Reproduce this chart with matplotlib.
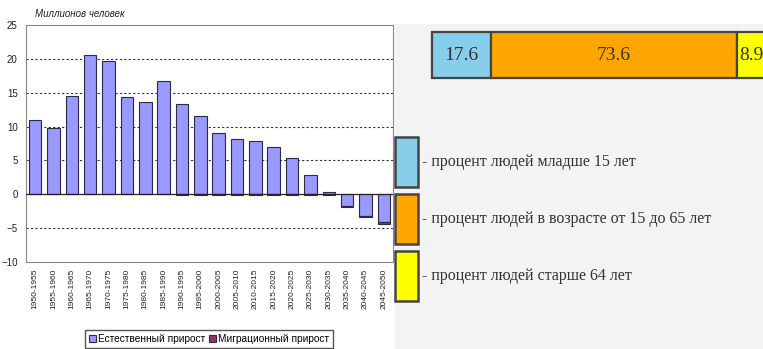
import matplotlib
matplotlib.use("Agg")
import matplotlib.pyplot as plt
from matplotlib.patches import Rectangle, Patch
import numpy as np

# data
periods = ["1950-1955", "1955-1960", "1960-1965", "1965-1970", "1970-1975",
           "1975-1980", "1980-1985", "1985-1990", "1990-1995", "1995-2000",
           "2000-2005", "2005-2010", "2010-2015", "2015-2020", "2020-2025",
           "2025-2030", "2030-2035", "2035-2040", "2040-2045", "2045-2050"]
natural = [11.0, 9.8, 14.5, 20.5, 19.7, 14.4, 13.7, 16.7, 13.3, 11.6,
           9.0, 8.1, 7.85, 7.0, 5.3, 2.9, 0.4, -1.7, -3.2, -4.1]
migration = [0, 0, 0, 0, 0, 0, 0, 0, -0.15, -0.15,
             -0.15, -0.15, -0.15, -0.15, -0.15, -0.15, -0.1, -0.25, -0.15, -0.25]
series_names = ["Естественный прирост", "Миграционный прирост"]
y_label = "Миллионов человек"

age_shares = [17.6, 73.6, 8.9]
age_labels = ["- процент людей младше 15 лет",
              "- процент людей в возрасте от 15 до 65 лет",
              "- процент людей старше 64 лет"]
age_colors = ["#87ceeb", "#ffa500", "#ffff00"]

W, H = 763, 349
fig = plt.figure(figsize=(W / 100, H / 100), dpi=100)
fig.patch.set_facecolor("white")


def fx(px):
    return px / W


def fy(py):
    return 1 - py / H


# light gray panel on the right (behind everything)
fig.patches.append(Rectangle((fx(395), 0), 1 - fx(395), fy(24), transform=fig.transFigure,
                             facecolor="#f3f3f3", edgecolor="none", zorder=-5))

# ---- left chart ----
ax = fig.add_axes([fx(26), fy(262), fx(393) - fx(26), fy(25) - fy(262)])
x = np.arange(len(periods))
nat = np.array(natural)
mig = np.array(migration)
ax.bar(x, nat, width=0.68, color="#9999ff", edgecolor="#2b2b48", linewidth=0.8, zorder=3,
       label=series_names[0])
ax.bar(x, mig, width=0.68, bottom=np.minimum(nat, 0), color="#993366", edgecolor="#2b2b48",
       linewidth=0.8, zorder=3, label=series_names[1])
ax.set_xlim(-0.5, len(periods) - 0.5)
ax.set_ylim(-10, 25)
ax.set_yticks(range(-10, 30, 5))
ax.set_xticks(x)
ax.set_xticklabels(periods, rotation=90, fontsize=6, family="Liberation Sans")
for lab in ax.get_yticklabels():
    lab.set_fontsize(7)
    lab.set_family("Liberation Sans")
ax.tick_params(axis="both", length=0, colors="#222222")
ax.tick_params(axis="y", pad=6)
ax.tick_params(axis="x", pad=5)
for yv in [20, 15, 10, 5, -5]:
    ax.axhline(yv, color="#333333", lw=0.8, ls=(0, (2, 2)), zorder=1)
ax.axhline(0, color="#222222", lw=0.9, zorder=4)
for s in ax.spines.values():
    s.set_color("#888888")
    s.set_linewidth(0.8)
fig.text(fx(35), fy(14), y_label, fontsize=7, style="italic", family="Liberation Sans",
         color="#222222", va="center")
fig.legend(loc="center", bbox_to_anchor=(fx(209), fy(339)), ncol=2,
           prop={"family": "Liberation Sans", "size": 7.3},
           handlelength=0.7, handleheight=0.7, handletextpad=0.2, columnspacing=0.4,
           borderpad=0.35, fancybox=False, edgecolor="#555555", framealpha=1)

# ---- right: stacked share bar ----
ax2 = fig.add_axes([fx(432), fy(78), fx(766) - fx(432), fy(32) - fy(78)])
ax2.set_xlim(0, 100)
ax2.set_ylim(-0.5, 0.5)
ax2.axis("off")
left = 0
for val, col in zip(age_shares, age_colors):
    ax2.barh(0, val, left=left, height=1, color=col, edgecolor="#444444", linewidth=1.6,
             clip_on=False)
    ax2.text(left + val / 2, 0, f"{val}", ha="center", va="center", fontsize=14,
             family="Liberation Serif", color="#333333")
    left += val

handles = [Patch(facecolor=c, edgecolor="#444444", linewidth=1.8) for c in age_colors]
fig.legend(handles, age_labels, loc="upper left", bbox_to_anchor=(fx(395), fy(137)),
           prop={"family": "Liberation Serif", "size": 11.5}, frameon=False,
           handlelength=1.45, handleheight=4.43, handletextpad=0.25, labelspacing=0.45,
           borderpad=0, borderaxespad=0, labelcolor="#333333")

fig.savefig("out.png", dpi=100)
